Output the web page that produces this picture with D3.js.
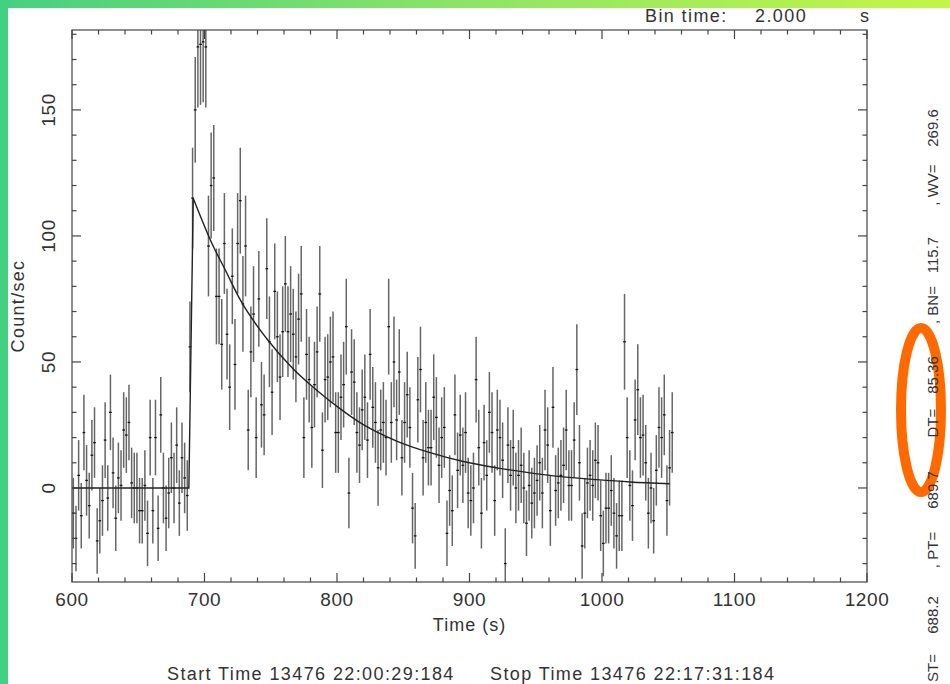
<!DOCTYPE html>
<html>
<head>
<meta charset="utf-8">
<script src="https://cdn.jsdelivr.net/npm/d3@7"></script>
<style>
  body { margin: 0; background: #fff; }
  svg { display: block; }
  text { font-family: "Liberation Sans", Arial, sans-serif; fill: #333; }
</style>
</head>
<body>
<div id="chart"></div>
<script>
// light curve, 2 s bins starting at 600 s
const binTime = 2.0;
const firstBin = 601;

// count rates, in time order
const preBurst = [-10, -20, 5, -11, 22, 3, -7, 13, 18, -21, -13, -5, 19, -4, 30, 6, -12, 4, 1, 23,
  21, 26, 2, 0, 0, -9, -9, 1, -18, 20, -9, 20, -16, 29, 0, -12, -2, 12, 0, 17, -6, 12, 4, -3];
const preErr = [14, 13, 14, 13, 15, 14, 13, 14, 14, 13, 13, 14, 15, 13, 15, 14, 13, 14, 14, 15,
  15, 15, 14, 14, 14, 13, 13, 14, 13, 15, 13, 15, 13, 15, 14, 13, 14, 14, 14, 15, 13, 14, 14, 14];

const rise = [56, 115, 150, 175, 176, 177, 175];
const riseErr = [18, 20, 21, 24, 24, 24, 24];

const decayA = [96, 120, 123, 76, 76, 57, 97, 61, 40, 84, 49, 97, 114, 73, 96, 23, 54, 69, 20, 75,
  33, 29, 87, 58, 38, 78, 60, 44, 62, 81, 62, 69, 61, 52, 67, 77, 20, 53, 43, 24,
  41, 54, 77, 15, 43, 44, 50, 52, 22];
const decayAErr = [20, 21, 21, 19, 19, 18, 20, 18, 17, 19, 18, 20, 21, 19, 20, 16, 18, 19, 16, 19,
  17, 16, 20, 18, 17, 19, 18, 17, 18, 19, 18, 19, 18, 18, 18, 19, 16, 18, 17, 16,
  17, 18, 19, 15, 17, 17, 18, 18, 16];

const decayB = [22, 36, 41, 64, -2, 46, 42, 22, 17, 31, 36, 19, 53, 32, 26, 8, 23, 26, 20, 64,
  26, 50, 27, 46, 12, 26, 37, 24, -8, -19, 35, 47, 12, 26, 16, 16, 36, 28, 9, 20,
  24, -18, -1, -9, 29, 7, 21, 9, 22, -2, -5, 0, 43, 16, -10, 18, 5, 30, 22, -5, 23];
const decayBErr = [16, 17, 17, 19, 14, 17, 17, 16, 15, 16, 17, 15, 18, 16, 16, 15, 16, 16, 15, 19,
  16, 18, 16, 17, 15, 16, 17, 16, 14, 13, 17, 17, 15, 16, 15, 15, 17, 16, 15, 16,
  16, 13, 14, 14, 16, 15, 16, 15, 16, 14, 14, 14, 17, 15, 14, 15, 14, 16, 16, 14, 16];

const decayC = [20, 11, -30, 17, 5, 16, 0, 5, 9, 0, -14, 1, -6, -2, 3, 10, -2, 23, 17, -9,
  32, -1, 2, 5, 9, 23, 1, 1, 19, 47, 10, -23, -10, 2, 5, 1, 11, 10, -11, -22,
  -8, -8, -1, -10, -19, -11, -11, 58, 20, 1, -7, 27, 39, 20, 21, 10, -10, 0, -13, 7,
  24, 20, 29, -5, 8, 22];
const decayCErr = [15, 15, 14, 15, 14, 15, 14, 14, 15, 14, 13, 14, 14, 14, 14, 15, 14, 16, 15, 14,
  16, 14, 14, 14, 15, 16, 14, 14, 15, 18, 15, 13, 14, 14, 14, 14, 15, 15, 14, 13,
  14, 14, 14, 14, 13, 14, 14, 19, 16, 14, 14, 16, 18, 16, 16, 15, 14, 14, 13, 14,
  16, 16, 16, 14, 15, 16];

// fitted burst model
const baseT = [600, 688.2];
const baseV = [0, 0];
const fitT = [691.5, 706.7, 715.5, 726.8, 747, 767, 784.7, 802, 819.9, 845, 870.2, 895.3, 920.5, 945.7, 970.8, 996, 1021, 1051];
const fitV = [115, 95.8, 86.7, 74.8, 59.2, 47.2, 38.8, 31.6, 25.1, 18.6, 14.0, 10.5, 8.0, 6.0, 4.4, 3.3, 2.4, 1.7];

const xMajor = [600, 700, 800, 900, 1000, 1100, 1200];
const yMajor = [0, 50, 100, 150];

const rates = [].concat(preBurst, rise, decayA, decayB, decayC);
const errs = [].concat(preErr, riseErr, decayAErr, decayBErr, decayCErr);
const points = rates.map((v, i) => ({ t: firstBin + i * binTime, v: v, e: errs[i] }));

const W = 950, H = 684;
const margin = { top: 30, right: 83, bottom: 102, left: 72 };

const svg = d3.select("#chart").append("svg")
  .attr("width", W)
  .attr("height", H);

// page decoration: green bars
const grad = svg.append("defs").append("linearGradient")
  .attr("id", "topbar").attr("x1", "0%").attr("x2", "100%");
grad.append("stop").attr("offset", "0%").attr("stop-color", "#44d081");
grad.append("stop").attr("offset", "50%").attr("stop-color", "#8fe466");
grad.append("stop").attr("offset", "100%").attr("stop-color", "#c2f646");

svg.append("rect").attr("x", 0).attr("y", 0).attr("width", W).attr("height", 8).attr("fill", "url(#topbar)");
svg.append("rect").attr("x", 0).attr("y", 0).attr("width", 8).attr("height", H).attr("fill", "#44d081");

const x = d3.scaleLinear().domain([600, 1200]).range([margin.left, W - margin.right]);
const y = d3.scaleLinear().domain([-37.3, 181.7]).range([H - margin.bottom, margin.top]);

svg.append("defs").append("clipPath").attr("id", "plotclip")
  .append("rect")
  .attr("x", x(600)).attr("y", y(181.7))
  .attr("width", x(1200) - x(600)).attr("height", y(-37.3) - y(181.7));

const plot = svg.append("g").attr("clip-path", "url(#plotclip)");

// error bars
plot.append("g").selectAll("line")
  .data(points)
  .enter().append("line")
  .attr("x1", d => x(d.t)).attr("x2", d => x(d.t))
  .attr("y1", d => y(d.v - d.e)).attr("y2", d => y(d.v + d.e))
  .attr("stroke", "#666")
  .attr("stroke-width", 1.5);

// bin marks
plot.append("g").selectAll("line")
  .data(points)
  .enter().append("line")
  .attr("x1", d => x(d.t - binTime / 2)).attr("x2", d => x(d.t + binTime / 2))
  .attr("y1", d => y(d.v)).attr("y2", d => y(d.v))
  .attr("stroke", "#111")
  .attr("stroke-width", 1.3);

// model
const lin = d3.line().x(d => x(d[0])).y(d => y(d[1]));
plot.append("path")
  .attr("d", lin(baseT.map((t, i) => [t, baseV[i]]).concat([[fitT[0], fitV[0]]])))
  .attr("fill", "none").attr("stroke", "#222").attr("stroke-width", 1.4);
plot.append("path")
  .attr("d", lin.curve(d3.curveMonotoneX)(fitT.map((t, i) => [t, fitV[i]])))
  .attr("fill", "none").attr("stroke", "#222").attr("stroke-width", 1.4);

// frame + ticks on all four sides (pointing inward)
const axes = svg.append("g").attr("stroke", "#444").attr("stroke-width", 1.2);
axes.append("rect")
  .attr("x", x(600)).attr("y", y(181.7))
  .attr("width", x(1200) - x(600)).attr("height", y(-37.3) - y(181.7))
  .attr("fill", "none");

const xMinor = d3.range(620, 1200, 20).filter(t => !xMajor.includes(t));
const yMinor = d3.range(-30, 181, 10).filter(v => !yMajor.includes(v));
const yTop = y(181.7), yBot = y(-37.3), xL = x(600), xR = x(1200);

function xTicks(vals, len) {
  vals.forEach(t => {
    axes.append("line").attr("x1", x(t)).attr("x2", x(t)).attr("y1", yBot).attr("y2", yBot - len);
    axes.append("line").attr("x1", x(t)).attr("x2", x(t)).attr("y1", yTop).attr("y2", yTop + len);
  });
}
function yTicks(vals, len) {
  vals.forEach(v => {
    axes.append("line").attr("x1", xL).attr("x2", xL + len).attr("y1", y(v)).attr("y2", y(v));
    axes.append("line").attr("x1", xR).attr("x2", xR - len).attr("y1", y(v)).attr("y2", y(v));
  });
}
xTicks(xMajor, 9);
xTicks(xMinor, 4.5);
yTicks(yMajor, 9);
yTicks(yMinor, 4.5);

// tick labels
svg.append("g").selectAll("text")
  .data(xMajor)
  .enter().append("text")
  .attr("x", d => x(d)).attr("y", yBot + 24)
  .attr("text-anchor", "middle")
  .style("font-size", "19px")
  .style("letter-spacing", "0.6px")
  .text(d => d);

svg.append("g").selectAll("text")
  .data(yMajor)
  .enter().append("text")
  .attr("transform", d => "translate(" + (xL - 17) + "," + y(d) + ") rotate(-90)")
  .attr("text-anchor", "middle")
  .style("font-size", "19px")
  .style("letter-spacing", "0.6px")
  .text(d => d);

svg.append("text")
  .attr("x", (xL + xR) / 2).attr("y", yBot + 49)
  .attr("text-anchor", "middle")
  .style("font-size", "18px")
  .style("letter-spacing", "1px")
  .text("Time (s)");

svg.append("text")
  .attr("transform", "translate(24," + ((yTop + yBot) / 2) + ") rotate(-90)")
  .attr("text-anchor", "middle")
  .style("font-size", "18px")
  .style("letter-spacing", "1.3px")
  .text("Count/sec");

// header / footer
const header = svg.append("g").style("font-size", "18px").style("letter-spacing", "1.4px");
header.append("text").attr("x", 645).attr("y", 22).text("Bin time:");
header.append("text").attr("x", 755).attr("y", 22).text("2.000");
header.append("text").attr("x", 860).attr("y", 22).text("s");

const footer = svg.append("g").style("font-size", "18px").style("letter-spacing", "1.4px");
footer.append("text").attr("x", 167).attr("y", 680).text("Start Time 13476 22:00:29:184");
footer.append("text").attr("x", 490).attr("y", 680).text("Stop Time 13476 22:17:31:184");

// orange highlight ring (behind the parameter text)
svg.append("ellipse")
  .attr("cx", 921).attr("cy", 410).attr("rx", 20).attr("ry", 82)
  .attr("fill", "none").attr("stroke", "#ff6a00").attr("stroke-width", 10);

// fit parameters, written up the right edge
const paramLabels = ["ST=", ", PT=", "DT=", ", BN=", ", WV="];
const paramValues = ["688.2", "689.7", "85.36", "115.7", "269.6"];
const labelY = [668, 550, 423, 305, 185];
const valueY = [615, 490, 375, 255, 128];
paramLabels.forEach((lab, i) => {
  svg.append("text")
    .attr("transform", "translate(938," + labelY[i] + ") rotate(-90)")
    .attr("text-anchor", "middle").style("font-size", "15px").text(lab);
  svg.append("text")
    .attr("transform", "translate(938," + valueY[i] + ") rotate(-90)")
    .attr("text-anchor", "middle").style("font-size", "15px").text(paramValues[i]);
});
</script>
</body>
</html>
